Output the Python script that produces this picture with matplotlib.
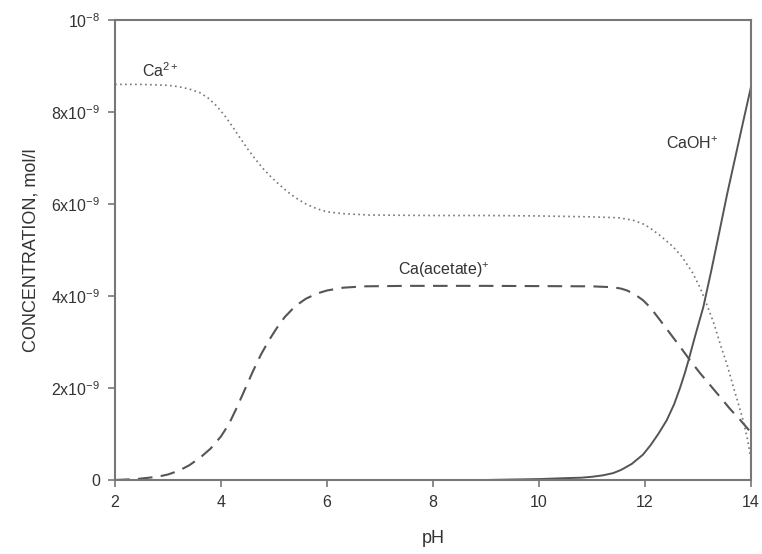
import matplotlib
matplotlib.use("Agg")
import matplotlib.pyplot as plt

plt.rcParams['font.family'] = ['Liberation Sans', 'DejaVu Sans']
plt.rcParams['mathtext.fontset'] = 'custom'
plt.rcParams['mathtext.rm'] = 'Liberation Sans'
plt.rcParams['mathtext.it'] = 'Liberation Sans'
plt.rcParams['mathtext.default'] = 'regular'

TEXT = '#333333'
LINE = '#555555'

# Ca2+ (dotted)
ph_ca = [2.0, 2.5, 3.0, 3.2, 3.4, 3.6, 3.75, 3.9, 4.05, 4.2, 4.35, 4.5, 4.65, 4.8, 4.95,
         5.1, 5.25, 5.4, 5.6, 5.8, 6.0, 6.3, 6.8, 8.0, 9.0, 10.0, 11.0, 11.5, 11.77, 12.0,
         12.15, 12.3, 12.53, 12.7, 12.9, 13.05, 13.17, 13.3, 13.42, 13.55, 13.66, 13.75,
         13.85, 13.93, 14.0]
ca = [8.60, 8.60, 8.58, 8.55, 8.50, 8.42, 8.31, 8.15, 7.95, 7.71, 7.45, 7.20, 6.97, 6.76, 6.58,
      6.42, 6.27, 6.14, 6.00, 5.90, 5.83, 5.79, 5.76, 5.75, 5.75, 5.74, 5.72, 5.70, 5.65, 5.55,
      5.43, 5.30, 5.07, 4.85, 4.50, 4.15, 3.80, 3.40, 2.95, 2.50, 2.05, 1.70,
      1.30, 0.90, 0.45]

# Ca(acetate)+ (dashed)
ph_ac = [2.0, 2.4, 2.8, 3.0, 3.2, 3.4, 3.6, 3.8, 4.0, 4.15, 4.3, 4.45, 4.6, 4.75, 4.9,
         5.05, 5.2, 5.4, 5.6, 5.8, 6.0, 6.3, 6.7, 7.5, 9.0, 11.0, 11.4, 11.55, 11.66, 11.8,
         11.96, 12.1, 12.28, 12.45, 12.66, 12.85, 13.04, 13.23, 13.42, 13.6, 13.8, 14.0]
ac = [0.00, 0.02, 0.07, 0.12, 0.20, 0.32, 0.48, 0.68, 0.95, 1.22, 1.58, 1.97, 2.36, 2.72, 3.03,
      3.30, 3.54, 3.78, 3.94, 4.05, 4.12, 4.18, 4.21, 4.22, 4.22, 4.21, 4.19, 4.16, 4.12, 4.04,
      3.91, 3.75, 3.48, 3.22, 2.90, 2.60, 2.32, 2.06, 1.80, 1.55, 1.30, 1.03]

# CaOH+ (solid)
ph_oh = [2.0, 9.0, 9.5, 10.0, 10.5, 10.8, 11.0, 11.2, 11.4, 11.55, 11.75, 11.96, 12.1,
         12.25, 12.41, 12.55, 12.66, 12.75, 12.82, 12.95, 13.1, 13.25, 13.4, 13.55, 13.7,
         13.85, 14.0]
oh = [0.0, 0.0, 0.01, 0.02, 0.04, 0.05, 0.07, 0.10, 0.15, 0.22, 0.35, 0.55, 0.75,
      1.00, 1.30, 1.65, 2.00, 2.32, 2.60, 3.15, 3.76, 4.55, 5.38, 6.22, 7.00,
      7.78, 8.55]

y_ticks = [0, 2, 4, 6, 8, 10]
y_ticklabels = ['0', r'2x10$^{-9}$', r'4x10$^{-9}$', r'6x10$^{-9}$', r'8x10$^{-9}$', r'10$^{-8}$']
x_ticks = [2, 4, 6, 8, 10, 12, 14]

fig = plt.figure(figsize=(7.62, 5.54), dpi=100)
ax = fig.add_axes([0.151, 0.1336, 0.8346, 0.8303])

ax.plot(ph_ca, ca, color='#777777', linestyle=(0, (1, 2)), linewidth=1.2)
ax.plot(ph_ac, ac, color=LINE, linestyle=(0, (7, 4)), linewidth=1.5)
ax.plot(ph_oh, oh, color=LINE, linestyle='-', linewidth=1.4)

ax.text(2.85, 8.9, r'Ca$^{2+}$', color=TEXT, fontsize=11.5, ha='center', va='center')
ax.text(8.2, 4.55, r'Ca(acetate)$^{+}$', color=TEXT, fontsize=11.5, ha='center', va='center')
ax.text(12.9, 7.3, r'CaOH$^{+}$', color=TEXT, fontsize=11.5, ha='center', va='center')

ax.set_xlim(2, 14)
ax.set_ylim(0, 10)
ax.set_xticks(x_ticks)
ax.set_yticks(y_ticks)
ax.set_yticklabels(y_ticklabels)
ax.tick_params(direction='out', length=5, width=1.2, colors='#777777',
               labelcolor=TEXT, labelsize=11.5, pad=6)
for s in ax.spines.values():
    s.set_color('#777777')
    s.set_linewidth(1.5)

ax.set_xlabel('pH', color=TEXT, fontsize=13, labelpad=14)
ax.set_ylabel('CONCENTRATION, mol/l', color=TEXT, fontsize=13, labelpad=8)

fig.savefig('out.png', dpi=100)
